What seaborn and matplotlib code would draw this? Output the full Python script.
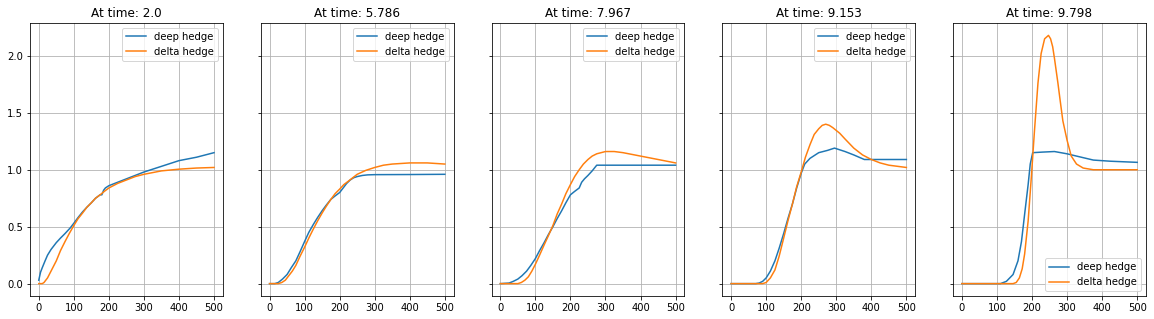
import numpy as np
import pandas as pd
import seaborn as sns
import matplotlib
matplotlib.use("Agg")
from matplotlib import pyplot as plt

times = ["2.0", "5.786", "7.967", "9.153", "9.798"]

# panel 1
deep_x1 = [0, 5, 10, 18, 25, 35, 50, 62, 75, 90, 100, 112, 125, 137, 150, 162, 175, 180, 185, 190, 200, 225, 250, 275, 300, 350, 400, 450, 500]
deep_y1 = [0.03, 0.1, 0.14, 0.2, 0.25, 0.3, 0.36, 0.4, 0.44, 0.49, 0.53, 0.58, 0.63, 0.67, 0.71, 0.75, 0.78, 0.78, 0.82, 0.84, 0.86, 0.89, 0.92, 0.95, 0.98, 1.03, 1.08, 1.11, 1.15]
delta_x1 = [0, 10, 15, 20, 25, 30, 40, 50, 62, 75, 87, 100, 112, 125, 137, 150, 162, 175, 187, 200, 225, 250, 275, 300, 350, 400, 450, 500]
delta_y1 = [0.0, 0.0, 0.01, 0.03, 0.05, 0.08, 0.14, 0.2, 0.29, 0.37, 0.44, 0.51, 0.57, 0.62, 0.67, 0.71, 0.75, 0.78, 0.81, 0.84, 0.88, 0.91, 0.94, 0.96, 0.99, 1.005, 1.015, 1.02]

# panel 2
deep_x2 = [0, 15, 25, 37, 50, 62, 75, 87, 100, 112, 125, 137, 150, 162, 175, 187, 200, 210, 220, 230, 240, 250, 265, 280, 300, 400, 500]
deep_y2 = [0.0, 0.0, 0.01, 0.04, 0.08, 0.14, 0.2, 0.28, 0.37, 0.45, 0.52, 0.58, 0.64, 0.69, 0.74, 0.77, 0.8, 0.84, 0.88, 0.91, 0.93, 0.94, 0.95, 0.955, 0.957, 0.958, 0.96]
delta_x2 = [0, 25, 35, 45, 55, 65, 75, 87, 100, 112, 125, 137, 150, 162, 175, 187, 200, 212, 225, 250, 275, 300, 325, 350, 400, 450, 500]
delta_y2 = [0.0, 0.0, 0.01, 0.03, 0.07, 0.11, 0.16, 0.24, 0.32, 0.4, 0.48, 0.55, 0.62, 0.68, 0.74, 0.79, 0.83, 0.87, 0.9, 0.96, 0.995, 1.02, 1.04, 1.05, 1.06, 1.06, 1.05]

# panel 3
deep_x3 = [0, 25, 37, 50, 62, 75, 87, 100, 112, 125, 137, 150, 162, 175, 187, 200, 212, 225, 232, 240, 250, 262, 275, 300, 400, 500]
deep_y3 = [0.0, 0.005, 0.02, 0.04, 0.07, 0.11, 0.16, 0.22, 0.29, 0.36, 0.43, 0.5, 0.57, 0.64, 0.71, 0.78, 0.81, 0.84, 0.89, 0.92, 0.95, 0.99, 1.04, 1.04, 1.04, 1.04]
delta_x3 = [0, 50, 60, 70, 80, 90, 100, 112, 125, 137, 150, 162, 175, 187, 200, 212, 225, 237, 250, 262, 275, 300, 325, 350, 400, 450, 500]
delta_y3 = [0.0, 0.0, 0.01, 0.03, 0.06, 0.11, 0.17, 0.25, 0.34, 0.42, 0.51, 0.61, 0.7, 0.79, 0.87, 0.94, 1.0, 1.05, 1.09, 1.12, 1.14, 1.16, 1.16, 1.15, 1.12, 1.09, 1.06]

# panel 4
deep_x4 = [0, 70, 80, 90, 100, 112, 125, 137, 150, 162, 175, 187, 200, 210, 225, 250, 275, 295, 325, 350, 380, 400, 500]
deep_y4 = [0.0, 0.0, 0.005, 0.02, 0.05, 0.11, 0.2, 0.31, 0.44, 0.57, 0.7, 0.84, 0.97, 1.05, 1.1, 1.15, 1.17, 1.19, 1.16, 1.13, 1.09, 1.09, 1.09]
delta_x4 = [0, 90, 100, 112, 125, 137, 150, 162, 175, 187, 200, 212, 225, 237, 250, 260, 270, 280, 290, 310, 325, 350, 375, 400, 425, 450, 475, 500]
delta_y4 = [0.0, 0.0, 0.01, 0.05, 0.12, 0.24, 0.4, 0.55, 0.7, 0.85, 0.98, 1.11, 1.22, 1.31, 1.36, 1.39, 1.4, 1.39, 1.37, 1.32, 1.27, 1.19, 1.13, 1.09, 1.06, 1.04, 1.03, 1.02]

# panel 5
deep_x5 = [0, 110, 127, 146, 160, 170, 179, 189, 195, 202, 230, 264, 300, 327, 375, 423, 500]
deep_y5 = [0.0, 0.0, 0.02, 0.08, 0.2, 0.37, 0.61, 0.87, 1.05, 1.15, 1.155, 1.16, 1.14, 1.12, 1.085, 1.075, 1.065]
delta_x5 = [0, 146, 155, 164, 172, 179, 189, 198, 207, 217, 226, 236, 247, 253, 259, 264, 269, 274, 279, 288, 300, 312, 327, 346, 375, 400, 500]
delta_y5 = [0.0, 0.0, 0.01, 0.05, 0.13, 0.26, 0.55, 0.93, 1.34, 1.76, 2.02, 2.15, 2.18, 2.15, 2.08, 1.98, 1.87, 1.76, 1.64, 1.43, 1.26, 1.12, 1.05, 1.015, 1.0, 1.0, 1.0]

deep = [(deep_x1, deep_y1), (deep_x2, deep_y2), (deep_x3, deep_y3), (deep_x4, deep_y4), (deep_x5, deep_y5)]
delta = [(delta_x1, delta_y1), (delta_x2, delta_y2), (delta_x3, delta_y3), (delta_x4, delta_y4), (delta_x5, delta_y5)]

fig, axes = plt.subplots(1, 5, sharey=True, figsize=(1154 / 72, 319 / 72), dpi=72)
fig.subplots_adjust(left=0.026, right=0.993, bottom=0.072, top=0.928, wspace=0.197)

for i, ax in enumerate(axes):
    d1 = pd.DataFrame({"x": deep[i][0], "y": deep[i][1]})
    d2 = pd.DataFrame({"x": delta[i][0], "y": delta[i][1]})
    sns.lineplot(data=d1, x="x", y="y", ax=ax, color="C0", label="deep hedge", sort=False)
    sns.lineplot(data=d2, x="x", y="y", ax=ax, color="C1", label="delta hedge", sort=False)
    ax.set_title("At time: " + times[i])
    ax.set_xlabel("")
    ax.set_ylabel("")
    ax.set_xticks([0, 100, 200, 300, 400, 500])
    ax.grid(True)
    ax.legend(loc="lower right" if i == 4 else "upper right")

axes[0].set_yticks([0.0, 0.5, 1.0, 1.5, 2.0])
plt.savefig("out.png", dpi=72)
